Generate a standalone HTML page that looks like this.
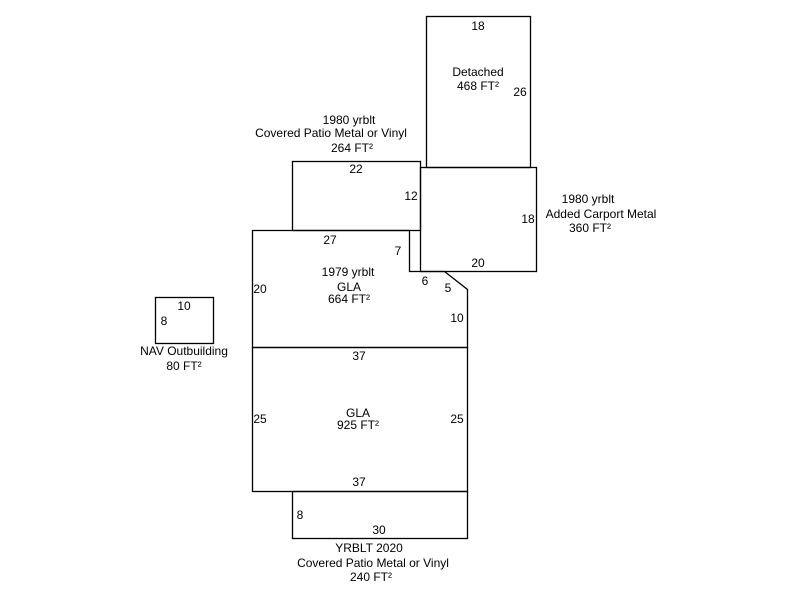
<!DOCTYPE html>
<html><head><style>
body{margin:0;background:#fff;width:800px;height:600px;overflow:hidden}
svg{display:block}
text{font-family:"Liberation Sans",Arial,sans-serif;font-size:12px;fill:#000;text-anchor:middle}
</style></head><body>
<svg width="800" height="600" viewBox="0 0 800 600">
<g fill="none" stroke="#000" stroke-width="1.3">
<rect x="426.5" y="16.5" width="104" height="151"/>
<rect x="292.5" y="161.5" width="128" height="69"/>
<rect x="420.5" y="167.5" width="116" height="104"/>
<path d="M252.5 230.5 H409.5 V271.5 H444.5 L467.5 289.5 V347.5 H252.5 Z"/>
<rect x="252.5" y="347.5" width="215" height="144"/>
<rect x="292.5" y="491.5" width="175" height="47"/>
<rect x="155.5" y="297.5" width="58" height="46"/>
</g>
<text x="478" y="30">18</text>
<text x="478" y="76">Detached</text>
<text x="478" y="90">468 FT²</text>
<text x="520" y="96">26</text>
<text x="349" y="124">1980 yrblt</text>
<text x="331" y="137">Covered Patio Metal or Vinyl</text>
<text x="352" y="152">264 FT²</text>
<text x="356" y="173">22</text>
<text x="411" y="200">12</text>
<text x="588" y="203">1980 yrblt</text>
<text x="601" y="218">Added Carport Metal</text>
<text x="590" y="232">360 FT²</text>
<text x="528" y="223">18</text>
<text x="330" y="244">27</text>
<text x="398" y="255">7</text>
<text x="478" y="267">20</text>
<text x="348" y="276">1979 yrblt</text>
<text x="349" y="291">GLA</text>
<text x="349" y="303">664 FT²</text>
<text x="425" y="285">6</text>
<text x="448" y="292">5</text>
<text x="260" y="293">20</text>
<text x="457" y="322">10</text>
<text x="184" y="310">10</text>
<text x="164" y="325">8</text>
<text x="184" y="355">NAV Outbuilding</text>
<text x="184" y="370">80 FT²</text>
<text x="359" y="360">37</text>
<text x="260" y="423">25</text>
<text x="457" y="423">25</text>
<text x="358" y="417">GLA</text>
<text x="358" y="429">925 FT²</text>
<text x="359" y="486">37</text>
<text x="300" y="519">8</text>
<text x="379" y="534">30</text>
<text x="369" y="552">YRBLT 2020</text>
<text x="373" y="567">Covered Patio Metal or Vinyl</text>
<text x="371" y="581">240 FT²</text>
</svg>
</body></html>
